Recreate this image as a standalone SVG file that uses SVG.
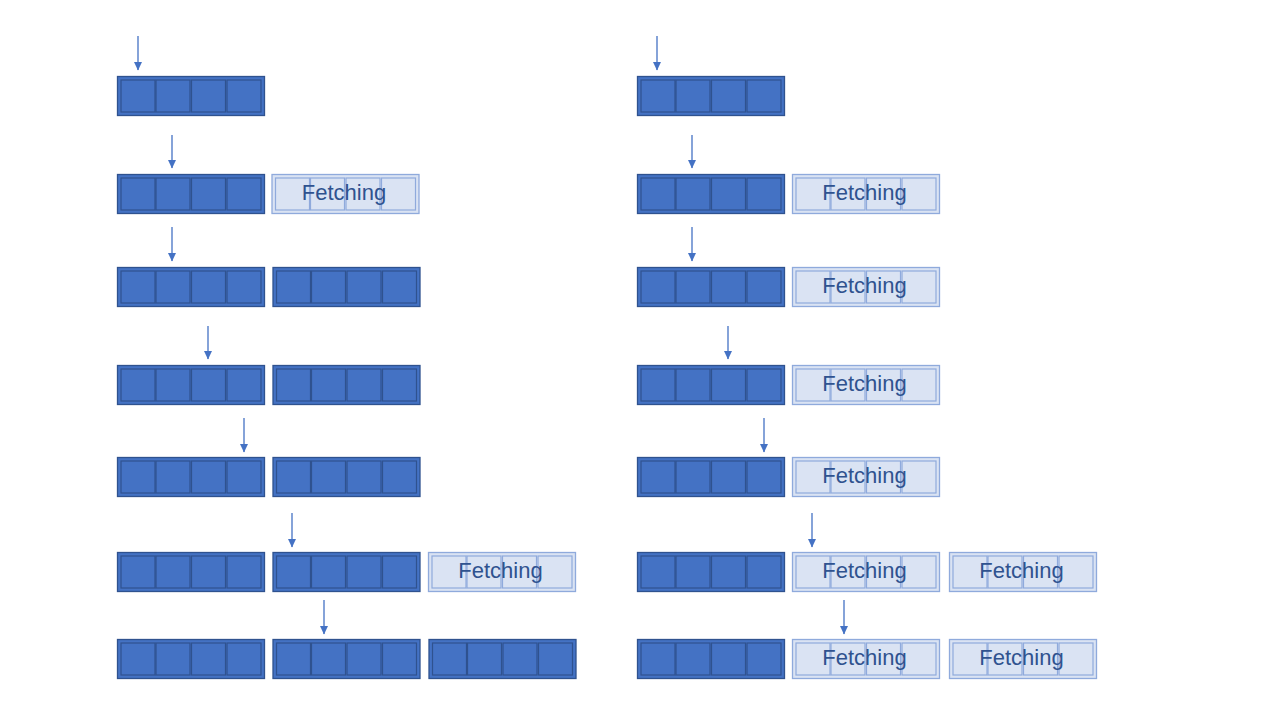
<svg xmlns="http://www.w3.org/2000/svg" xmlns:xlink="http://www.w3.org/1999/xlink" width="1280" height="720" viewBox="0 0 1280 720">
<style>
.dark{fill:#4472C4;stroke:#2F528F;stroke-width:1.3}
.dcell{fill:#4472C4;stroke:#2F528F;stroke-width:1.2}
.light{fill:#DAE3F3;stroke:#8FAADC;stroke-width:1.3}
.lcell{fill:none;stroke:#8FAADC;stroke-width:1.2}
.lbl{font-family:"Liberation Sans",Arial,sans-serif;font-size:22px;fill:#2F528F;text-anchor:middle}
.arr{stroke:#4472C4;stroke-width:1.3;fill:none;marker-end:url(#ah)}
</style>
<defs>
<marker id="ah" markerWidth="10" markerHeight="10" refX="8" refY="4.5" orient="auto" markerUnits="userSpaceOnUse">
<path d="M0,0.5 L8.5,4.5 L0,8.5 Z" fill="#4472C4"/>
</marker>
<g id="full">
<rect class="dark" x="0" y="0" width="147" height="39"/>
<rect class="dcell" x="3.5" y="3.5" width="34" height="32"/>
<rect class="dcell" x="38.5" y="3.5" width="34" height="32"/>
<rect class="dcell" x="74" y="3.5" width="34" height="32"/>
<rect class="dcell" x="109.5" y="3.5" width="34" height="32"/>
</g>
<g id="fetch">
<rect class="light" x="0" y="0" width="147" height="39"/>
<rect class="lcell" x="3.5" y="3.5" width="34" height="32"/>
<rect class="lcell" x="38.5" y="3.5" width="34" height="32"/>
<rect class="lcell" x="74" y="3.5" width="34" height="32"/>
<rect class="lcell" x="109.5" y="3.5" width="34" height="32"/>
<text class="lbl" x="72" y="25">Fetching</text>
</g>
</defs>

<g id="connectors">
<line class="arr" x1="138" y1="36" x2="138" y2="70"/>
<line class="arr" x1="172" y1="135" x2="172" y2="168"/>
<line class="arr" x1="172" y1="227" x2="172" y2="261"/>
<line class="arr" x1="208" y1="326" x2="208" y2="359"/>
<line class="arr" x1="244" y1="418" x2="244" y2="452"/>
<line class="arr" x1="292" y1="513" x2="292" y2="547"/>
<line class="arr" x1="324" y1="600" x2="324" y2="634"/>
<line class="arr" x1="657" y1="36" x2="657" y2="70"/>
<line class="arr" x1="692" y1="135" x2="692" y2="168"/>
<line class="arr" x1="692" y1="227" x2="692" y2="261"/>
<line class="arr" x1="728" y1="326" x2="728" y2="359"/>
<line class="arr" x1="764" y1="418" x2="764" y2="452"/>
<line class="arr" x1="812" y1="513" x2="812" y2="547"/>
<line class="arr" x1="844" y1="600" x2="844" y2="634"/>
</g>

<g id="left-r1a"><use xlink:href="#full" x="117.5" y="76.5"/></g>
<g id="left-r2a"><use xlink:href="#full" x="117.5" y="174.5"/></g>
<g id="left-r2b"><use xlink:href="#fetch" x="272" y="174.5"/></g>
<g id="left-r3a"><use xlink:href="#full" x="117.5" y="267.5"/></g>
<g id="left-r3b"><use xlink:href="#full" x="273" y="267.5"/></g>
<g id="left-r4a"><use xlink:href="#full" x="117.5" y="365.5"/></g>
<g id="left-r4b"><use xlink:href="#full" x="273" y="365.5"/></g>
<g id="left-r5a"><use xlink:href="#full" x="117.5" y="457.5"/></g>
<g id="left-r5b"><use xlink:href="#full" x="273" y="457.5"/></g>
<g id="left-r6a"><use xlink:href="#full" x="117.5" y="552.5"/></g>
<g id="left-r6b"><use xlink:href="#full" x="273" y="552.5"/></g>
<g id="left-r6c"><use xlink:href="#fetch" x="428.5" y="552.5"/></g>
<g id="left-r7a"><use xlink:href="#full" x="117.5" y="639.5"/></g>
<g id="left-r7b"><use xlink:href="#full" x="273" y="639.5"/></g>
<g id="left-r7c"><use xlink:href="#full" x="429" y="639.5"/></g>

<g id="right-r1a"><use xlink:href="#full" x="637.5" y="76.5"/></g>
<g id="right-r2a"><use xlink:href="#full" x="637.5" y="174.5"/></g>
<g id="right-r2b"><use xlink:href="#fetch" x="792.5" y="174.5"/></g>
<g id="right-r3a"><use xlink:href="#full" x="637.5" y="267.5"/></g>
<g id="right-r3b"><use xlink:href="#fetch" x="792.5" y="267.5"/></g>
<g id="right-r4a"><use xlink:href="#full" x="637.5" y="365.5"/></g>
<g id="right-r4b"><use xlink:href="#fetch" x="792.5" y="365.5"/></g>
<g id="right-r5a"><use xlink:href="#full" x="637.5" y="457.5"/></g>
<g id="right-r5b"><use xlink:href="#fetch" x="792.5" y="457.5"/></g>
<g id="right-r6a"><use xlink:href="#full" x="637.5" y="552.5"/></g>
<g id="right-r6b"><use xlink:href="#fetch" x="792.5" y="552.5"/></g>
<g id="right-r6c"><use xlink:href="#fetch" x="949.5" y="552.5"/></g>
<g id="right-r7a"><use xlink:href="#full" x="637.5" y="639.5"/></g>
<g id="right-r7b"><use xlink:href="#fetch" x="792.5" y="639.5"/></g>
<g id="right-r7c"><use xlink:href="#fetch" x="949.5" y="639.5"/></g>
</svg>
